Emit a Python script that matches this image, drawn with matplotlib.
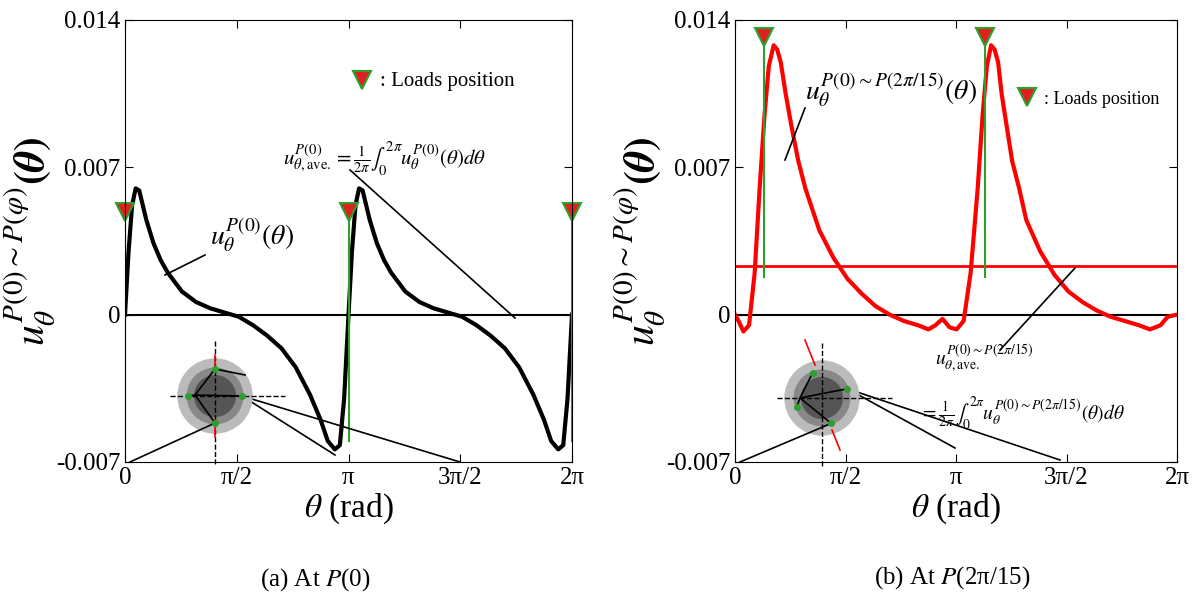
import numpy as np
import matplotlib.pyplot as plt
from matplotlib.patches import Ellipse

plt.rcParams['font.family'] = ['Liberation Serif', 'DejaVu Serif']
plt.rcParams['mathtext.fontset'] = 'stix'

pi = np.pi
# (a) displacement at P(0)
theta_a = [0, 0.05, 0.1, 0.15, 0.2, 0.25, 0.3, 0.4, 0.5, 0.6, 0.8, 1.0, 1.2, 1.4, 1.6, 1.8, 2.0, 2.2,
           2.4, 2.6, 2.75, 2.85, 2.95, 3.02, 3.08, 3.1416,
           3.19, 3.24, 3.29, 3.34, 3.39, 3.44, 3.54, 3.64, 3.74, 3.94, 4.14, 4.34, 4.54, 4.74, 4.94,
           5.14, 5.34, 5.54, 5.74, 5.89, 5.99, 6.09, 6.16, 6.22, 6.2832]
u_a = [0, 0.003, 0.0052, 0.006, 0.0059, 0.0052, 0.0045, 0.0034, 0.0026, 0.002, 0.0011, 0.0006, 0.0003,
       0.0001, -0.0001, -0.0005, -0.001, -0.0016, -0.0025, -0.0038, -0.005, -0.006, -0.0064, -0.0062,
       -0.004, 0,
       0.003, 0.0052, 0.006, 0.0059, 0.0052, 0.0045, 0.0034, 0.0026, 0.002, 0.0011, 0.0006, 0.0003,
       0.0001, -0.0001, -0.0005, -0.001, -0.0016, -0.0025, -0.0038, -0.005, -0.006, -0.0064,
       -0.0062, -0.004, 0]
loads_a = [0, pi, 2 * pi]

# (b) displacement at P(2pi/15)
theta_b = [0, 0.05, 0.12, 0.2, 0.28, 0.35, 0.42, 0.48, 0.55, 0.6, 0.65, 0.72, 0.8, 0.9, 1.0, 1.2, 1.4,
           1.6, 1.8, 2.0, 2.2, 2.4, 2.6, 2.75, 2.85, 2.95, 3.05, 3.15, 3.25, 3.35, 3.45, 3.52, 3.58,
           3.64, 3.69, 3.74, 3.79, 3.86, 3.94, 4.04, 4.14, 4.34, 4.54, 4.74, 4.94, 5.14, 5.34, 5.54,
           5.74, 5.9, 6.05, 6.15, 6.2832]
u_b = [0, -0.0003, -0.0008, -0.0005, 0.002, 0.006, 0.0095, 0.0118, 0.0128, 0.0126, 0.012, 0.0105,
       0.009, 0.0073, 0.006, 0.004, 0.0027, 0.0017, 0.001, 0.0004, 0.0, -0.0003, -0.0005, -0.0007,
       -0.0005, -0.0002, -0.0006, -0.0007, -0.0003, 0.002, 0.006, 0.0095, 0.0118, 0.0128, 0.0126,
       0.012, 0.0105, 0.009, 0.0073, 0.006, 0.0045, 0.003, 0.0019, 0.0011, 0.0006, 0.0002, -0.0001,
       -0.0003, -0.0005, -0.0007, -0.0005, -0.0001, 0]
loads_b = [2 * pi / 15, pi + 2 * pi / 15]
u_ave_b = 0.0023

xticks = [0, pi / 2, pi, 3 * pi / 2, 2 * pi]
xlabels = ['0', 'π/2', 'π', '3π/2', '2π']
yticks = [-0.007, 0, 0.007, 0.014]
ylabels = ['-0.007', '0', '0.007', '0.014']
ylab = r'$\boldsymbol{u_\theta^{P(0)\sim P(\varphi)}(\theta)}$'

fig = plt.figure(figsize=(11.99, 6.03), dpi=100)
def P(x, y):
    return (x / 1199, 1 - y / 603)

def fline(p, q, **kw):
    a, b = P(*p), P(*q)
    fig.add_artist(plt.Line2D([a[0], b[0]], [a[1], b[1]], transform=fig.transFigure,
                              color=kw.pop('color', 'k'), lw=kw.pop('lw', 1.2), **kw))

axa = fig.add_axes([125 / 1199, 141 / 603, 447 / 1199, 442 / 603])
axb = fig.add_axes([735 / 1199, 141 / 603, 442 / 1199, 442 / 603])

for ax in (axa, axb):
    ax.set_xlim(0, 2 * pi)
    ax.set_ylim(-0.0069, 0.014)
    ax.set_xticks(xticks, xlabels, fontsize=18)
    ax.set_yticks(yticks, ylabels, fontsize=18)
    ax.tick_params(direction='in', length=6, right=True, top=True)
    ax.axhline(0, color='k', lw=1.5)
    ax.set_xlabel(r'$\theta$ (rad)', fontsize=24, labelpad=2)
    ax.set_ylabel(ylab, fontsize=30, labelpad=-2)

axa.plot(theta_a, u_a, color='k', lw=3)
for t in loads_a:
    axa.plot([t, t], [-0.006, 0.0052], color='#2ca02c', lw=1.5)
    axa.plot(t, 0.0049, marker='v', ms=13, mfc='#e02020', mec='#2ca02c', mew=1.5, clip_on=False)

axb.plot(theta_b, u_b, color='red', lw=3)
axb.axhline(u_ave_b, color='red', lw=2)
for t in loads_b:
    axb.plot([t, t], [0.0018, 0.0136], color='#2ca02c', lw=1.5)
    axb.plot(t, 0.0132, marker='v', ms=13, mfc='#e02020', mec='#2ca02c', mew=1.5, clip_on=False)

# legends
for ax, x, y, fs in ((axa, 0.57, 0.86, 15), (axb, 0.7, 0.82, 13)):
    ax.plot(x - 0.04, y + 0.005, transform=ax.transAxes, marker='v', ms=13, mfc='#e02020',
            mec='#2ca02c', mew=1.5)
    ax.text(x, y, ': Loads position', transform=ax.transAxes, fontsize=fs, va='center')

# annotations (a)
fig.text(*P(210, 245), r'$u_\theta^{P(0)}(\theta)$', fontsize=20)
fline((205, 255), (165, 275))
fig.text(*P(283, 165), r'$u_{\theta,\mathrm{ave.}}^{P(0)} = \frac{1}{2\pi}\int_0^{2\pi} u_\theta^{P(0)}(\theta)d\theta$',
         fontsize=15)
fline((350, 170), (515, 318))
# annotations (b)
fig.text(*P(805, 100), r'$u_\theta^{P(0)\sim P(2\pi/15)}(\theta)$', fontsize=20)
fline((805, 108), (785, 160))
fig.text(*P(935, 365), r'$u_{\theta,\mathrm{ave.}}^{P(0)\sim P(2\pi/15)}$', fontsize=14)
fig.text(*P(920, 420), r'$= \frac{1}{2\pi}\int_0^{2\pi} u_\theta^{P(0)\sim P(2\pi/15)}(\theta)d\theta$', fontsize=14)
fline((1000, 350), (1075, 268))

# inset sketches
def inset(cx, cy, r, rot):
    for rad, col in ((r, '#bbbbbb'), (r * 0.75, '#888888'), (r * 0.55, '#555555')):
        fig.add_artist(Ellipse(P(cx, cy), 2 * rad / 1199, 2 * rad / 603, transform=fig.transFigure,
                               color=col, zorder=5))
    fline((cx - 45, cy), (cx + 70, cy), ls='--', lw=1, zorder=6)
    fline((cx, cy - 55), (cx, cy + 70), ls='--', lw=1, zorder=6)
    pts = [(cx + 0.73 * r * np.cos(a + rot), cy - 0.73 * r * np.sin(a + rot)) for a in (0, pi / 2, pi, 1.5 * pi)]
    for p in pts:
        fig.add_artist(plt.Line2D([P(*p)[0]], [P(*p)[1]], marker='o', ms=4, color='#2ca02c',
                                  transform=fig.transFigure, zorder=8))
    return pts

pa = inset(215, 396, 37, 0)
fline((215, 355), (215, 372), color='red', zorder=7)
fline((215, 437), (215, 420), color='red', zorder=7)
for p in pa:
    fline((195, 395), p, zorder=7)
fline((130, 462), pa[3], zorder=7)
fline(pa[0], (335, 455))
fline(pa[0], (460, 462))
fline(pa[1], (245, 375), zorder=7)

pb = inset(822, 398, 37, 0.35)
fline((805, 340), (815, 365), color='red', zorder=7)
fline((840, 450), (832, 430), color='red', zorder=7)
for p in pb:
    fline((800, 398), p, zorder=7)
fline((740, 462), pb[3], zorder=7)
fline(pb[0], (955, 448))
fline(pb[0], (1060, 460))

fig.text(*P(315, 580), r'(a) At $P$(0)', fontsize=18, ha='center', va='center')
fig.text(*P(952, 578), r'(b) At $P$(2π/15)', fontsize=18, ha='center', va='center')

fig.savefig('out.png', dpi=100)
